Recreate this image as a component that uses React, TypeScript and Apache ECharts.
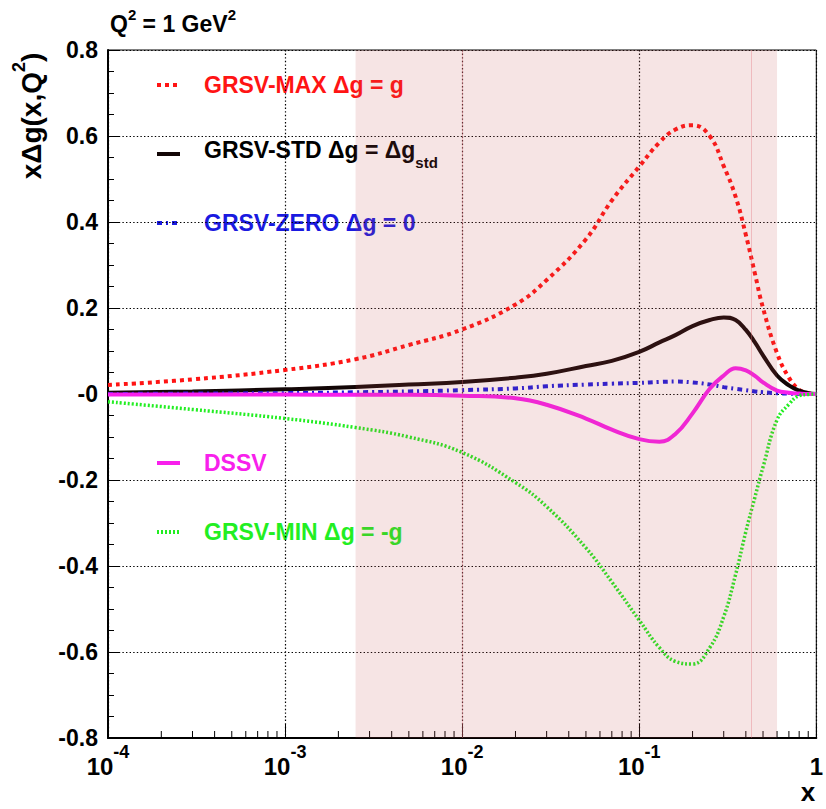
import React, { useEffect, useRef } from "react";
import * as echarts from "echarts";

// ---- data ----
const xValues = [
  0.0001, 0.0003, 0.001, 0.0025, 0.005, 0.01, 0.02, 0.03, 0.05, 0.07, 0.1, 0.13, 0.16, 0.2,
  0.25, 0.3, 0.35, 0.4, 0.45, 0.5, 0.6, 0.7, 0.8, 0.9, 1.0,
];
const grsvMax = [
  0.021, 0.034, 0.056, 0.081, 0.114, 0.15, 0.208, 0.265, 0.36, 0.45, 0.529, 0.585, 0.615, 0.625,
  0.6, 0.53, 0.459, 0.37, 0.28, 0.2, 0.095, 0.038, 0.01, 0.002, 0,
];
const grsvStd = [
  0.003, 0.006, 0.011, 0.016, 0.022, 0.028, 0.038, 0.047, 0.065, 0.077, 0.098, 0.12, 0.137, 0.158,
  0.172, 0.178, 0.172, 0.149, 0.12, 0.09, 0.043, 0.02, 0.008, 0.002, 0,
];
const grsvZero = [
  0.0, 0.001, 0.002, 0.004, 0.006, 0.009, 0.013, 0.018, 0.022, 0.024, 0.026, 0.028, 0.029, 0.027,
  0.022, 0.016, 0.012, 0.009, 0.006, 0.004, 0.002, 0.001, 0, 0, 0,
];
const dssv = [
  -0.001, -0.001, -0.001, -0.002, -0.002, -0.004, -0.01, -0.025, -0.057, -0.083, -0.105, -0.111,
  -0.093, -0.045, 0.012, 0.043, 0.06, 0.055, 0.042, 0.027, 0.008, 0.003, 0.001, 0, 0,
];
const grsvMin = [
  -0.018, -0.036, -0.057, -0.078, -0.1, -0.136, -0.206, -0.262, -0.358, -0.437, -0.526, -0.59,
  -0.622, -0.628, -0.59, -0.518, -0.42, -0.32, -0.24, -0.17, -0.06, -0.024, -0.004, -0.001, 0,
];

const bandRange = [0.0025, 0.6];
const bandLines = [0.011, 0.43];

const xTickExponents = [-4, -3, -2, -1, 0];
const yTickLabels = ["-0.8", "-0.6", "-0.4", "-0.2", "-0", "0.2", "0.4", "0.6", "0.8"];
const xMinorTicks = [
  0.0002, 0.0003, 0.0004, 0.0005, 0.0006, 0.0007, 0.0008, 0.0009,
  0.002, 0.003, 0.004, 0.005, 0.006, 0.007, 0.008, 0.009,
  0.02, 0.03, 0.04, 0.05, 0.06, 0.07, 0.08, 0.09,
  0.2, 0.3, 0.4, 0.5, 0.6, 0.7, 0.8, 0.9,
];

const legendNames = [
  "GRSV-MAX \u0394g = g",
  "GRSV-STD \u0394g = \u0394g",
  "GRSV-ZERO \u0394g = 0",
  "DSSV",
  "GRSV-MIN \u0394g = -g",
];

const FONT = "'Liberation Sans', Arial, Helvetica, sans-serif";

const C_RED = "#ff1414";
const C_BLACK = "#120606";
const C_BLUE = "#1a1ae0";
const C_MAG = "#f820ec";
const C_GREEN = "#22ee22";

export default function App() {
  const ref = useRef<HTMLDivElement>(null);

  useEffect(() => {
    const chart = echarts.init(ref.current!, null, { renderer: "svg" });
    const pts = (ys: number[]) => xValues.map((x, i) => [x, ys[i]]);

    const curve = (name: string, ys: number[], color: string, width: number, type: any) => ({
      name,
      type: "line",
      data: pts(ys),
      showSymbol: false,
      smooth: 0.45,
      silent: true,
      lineStyle: { color, width, type, cap: "butt" },
      z: 3,
    });

    const legendRows = [
      { y: 85, color: C_RED, dash: [4, 4], w: 4 },
      { y: 154, color: C_BLACK, dash: null, w: 4 },
      { y: 223, color: C_BLUE, dash: [5, 4, 2, 4], w: 4 },
      { y: 463, color: C_MAG, dash: null, w: 4 },
      { y: 532, color: C_GREEN, dash: [2, 2], w: 4 },
    ];
    const textColors = [C_RED, "#000", C_BLUE, C_MAG, C_GREEN];

    const graphics: any[] = [];
    legendRows.forEach((r, i) => {
      graphics.push({
        type: "line",
        silent: true,
        shape: { x1: 157, y1: r.y, x2: 180, y2: r.y },
        style: { stroke: r.color, lineWidth: r.w, lineDash: r.dash || undefined },
      });
      if (i === 1) {
        graphics.push({
          type: "text",
          silent: true,
          x: 204,
          y: r.y,
          style: {
            text: `{t|${legendNames[i]}}{sub|std}`,
            fill: textColors[i],
            textVerticalAlign: "middle",
            rich: {
              t: { fontSize: 23, fontWeight: "bold", fontFamily: FONT, lineHeight: 32, verticalAlign: "top", fill: "#000" },
              sub: { fontSize: 15, fontWeight: "bold", fontFamily: FONT, lineHeight: 16, verticalAlign: "bottom", fill: "#000" },
            },
          },
        });
      } else {
        graphics.push({
          type: "text",
          silent: true,
          x: 204,
          y: r.y,
          style: {
            text: legendNames[i],
            fill: textColors[i],
            font: `bold 23px ${FONT}`,
            textVerticalAlign: "middle",
          },
        });
      }
    });

    // title
    graphics.push({
      type: "text",
      silent: true,
      x: 110,
      y: 7,
      style: {
        text: "{m|Q}{s|2}{m| = 1 GeV}{s|2}",
        fill: "#000",
        textVerticalAlign: "top",
        rich: {
          m: { fontSize: 23, fontWeight: "bold", fontFamily: FONT, lineHeight: 34, fill: "#000" },
          s: { fontSize: 15, fontWeight: "bold", fontFamily: FONT, lineHeight: 16, verticalAlign: "top", fill: "#000" },
        },
      },
    });
    // y axis title
    graphics.push({
      type: "text",
      silent: true,
      x: 31,
      y: 116,
      rotation: Math.PI / 2,
      style: {
        text: "{m|x\u0394g(x,Q}{s|2}{m|)}",
        fill: "#000",
        textAlign: "center",
        textVerticalAlign: "middle",
        rich: {
          m: { fontSize: 28, fontWeight: "bold", fontFamily: FONT, lineHeight: 42, fill: "#000" },
          s: { fontSize: 18, fontWeight: "bold", fontFamily: FONT, lineHeight: 20, verticalAlign: "top", fill: "#000" },
        },
      },
    });
    // x axis title
    graphics.push({
      type: "text",
      silent: true,
      x: 808,
      y: 792,
      style: {
        text: "x",
        fill: "#000",
        font: `bold 26px ${FONT}`,
        textAlign: "center",
        textVerticalAlign: "middle",
      },
    });

    const gridDots = { color: "#000", width: 1.2, type: [1.4, 2.2] as any };

    chart.setOption({
      animation: false,
      backgroundColor: "#fff",
      grid: { left: 108, right: 8, top: 50, bottom: 71, show: true, borderColor: "#000", borderWidth: 1, backgroundColor: "transparent" },
      xAxis: {
        type: "log",
        logBase: 10,
        min: 0.0001,
        max: 1,
        splitNumber: 4,
        axisLine: { show: true, onZero: false, lineStyle: { color: "#000", width: 2 } },
        axisTick: { show: true, inside: true, length: 14, lineStyle: { color: "#000", width: 1 } },
        splitLine: { show: true, lineStyle: gridDots },
        axisLabel: {
          margin: 5,
          color: "#000",
          formatter: (v: number) => {
            const e = Math.round(Math.log10(v));
            const idx = xTickExponents.indexOf(e);
            const ex = xTickExponents[idx];
            if (ex === 0) return "{b|1}";
            return `{b|10}{s|${ex}}`;
          },
          rich: {
            b: { fontSize: 24, fontWeight: "bold", fontFamily: FONT, lineHeight: 46, color: "#000" },
            s: { fontSize: 18, fontWeight: "bold", fontFamily: FONT, lineHeight: 20, verticalAlign: "top", color: "#000" },
          },
        },
      },
      yAxis: {
        type: "value",
        min: -0.8,
        max: 0.8,
        interval: 0.2,
        axisLine: { show: true, onZero: false, lineStyle: { color: "#000", width: 2 } },
        axisTick: { show: true, inside: true, length: 12, lineStyle: { color: "#000", width: 1 } },
        minorTick: { show: true, splitNumber: 4, length: 6, lineStyle: { color: "#000", width: 1 } },
        splitLine: { show: true, lineStyle: gridDots },
        axisLabel: {
          margin: 10,
          color: "#000",
          fontSize: 23,
          fontWeight: "bold",
          fontFamily: FONT,
          formatter: (_v: number, i: number) => yTickLabels[i],
        },
      },
      graphic: graphics,
      series: [
        curve("GRSV-MAX", grsvMax, C_RED, 4, [4, 4]),
        curve("GRSV-STD", grsvStd, C_BLACK, 4, "solid"),
        curve("GRSV-ZERO", grsvZero, C_BLUE, 4, [5, 4, 2, 4]),
        curve("DSSV", dssv, C_MAG, 4, "solid"),
        curve("GRSV-MIN", grsvMin, C_GREEN, 3.5, [2, 2]),
        {
          type: "custom",
          silent: true,
          z: 6,
          clip: false,
          data: xMinorTicks.map((v) => [v, -0.8]),
          renderItem: (_p: any, api: any) => {
            const p = api.coord([api.value(0), api.value(1)]);
            return {
              type: "line",
              shape: { x1: p[0], y1: p[1], x2: p[0], y2: p[1] - 7 },
              style: { stroke: "#000", lineWidth: 1 },
            };
          },
        },
        {
          type: "line",
          data: [],
          silent: true,
          z: 10,
          markArea: {
            silent: true,
            z: 10,
            itemStyle: { color: "rgba(196,78,78,0.153)" },
            data: [[{ xAxis: bandRange[0] }, { xAxis: bandRange[1] }]],
          },
          markLine: {
            silent: true,
            z: 10,
            symbol: "none",
            label: { show: false },
            lineStyle: { color: "rgba(225,110,120,0.35)", width: 1, type: "solid" },
            data: bandLines.map((v) => ({ xAxis: v })),
          },
        },
      ],
    });

    return () => chart.dispose();
  }, []);

  return <div ref={ref} style={{ position: "fixed", left: 0, top: 0, width: 826, height: 809 }} />;
}
